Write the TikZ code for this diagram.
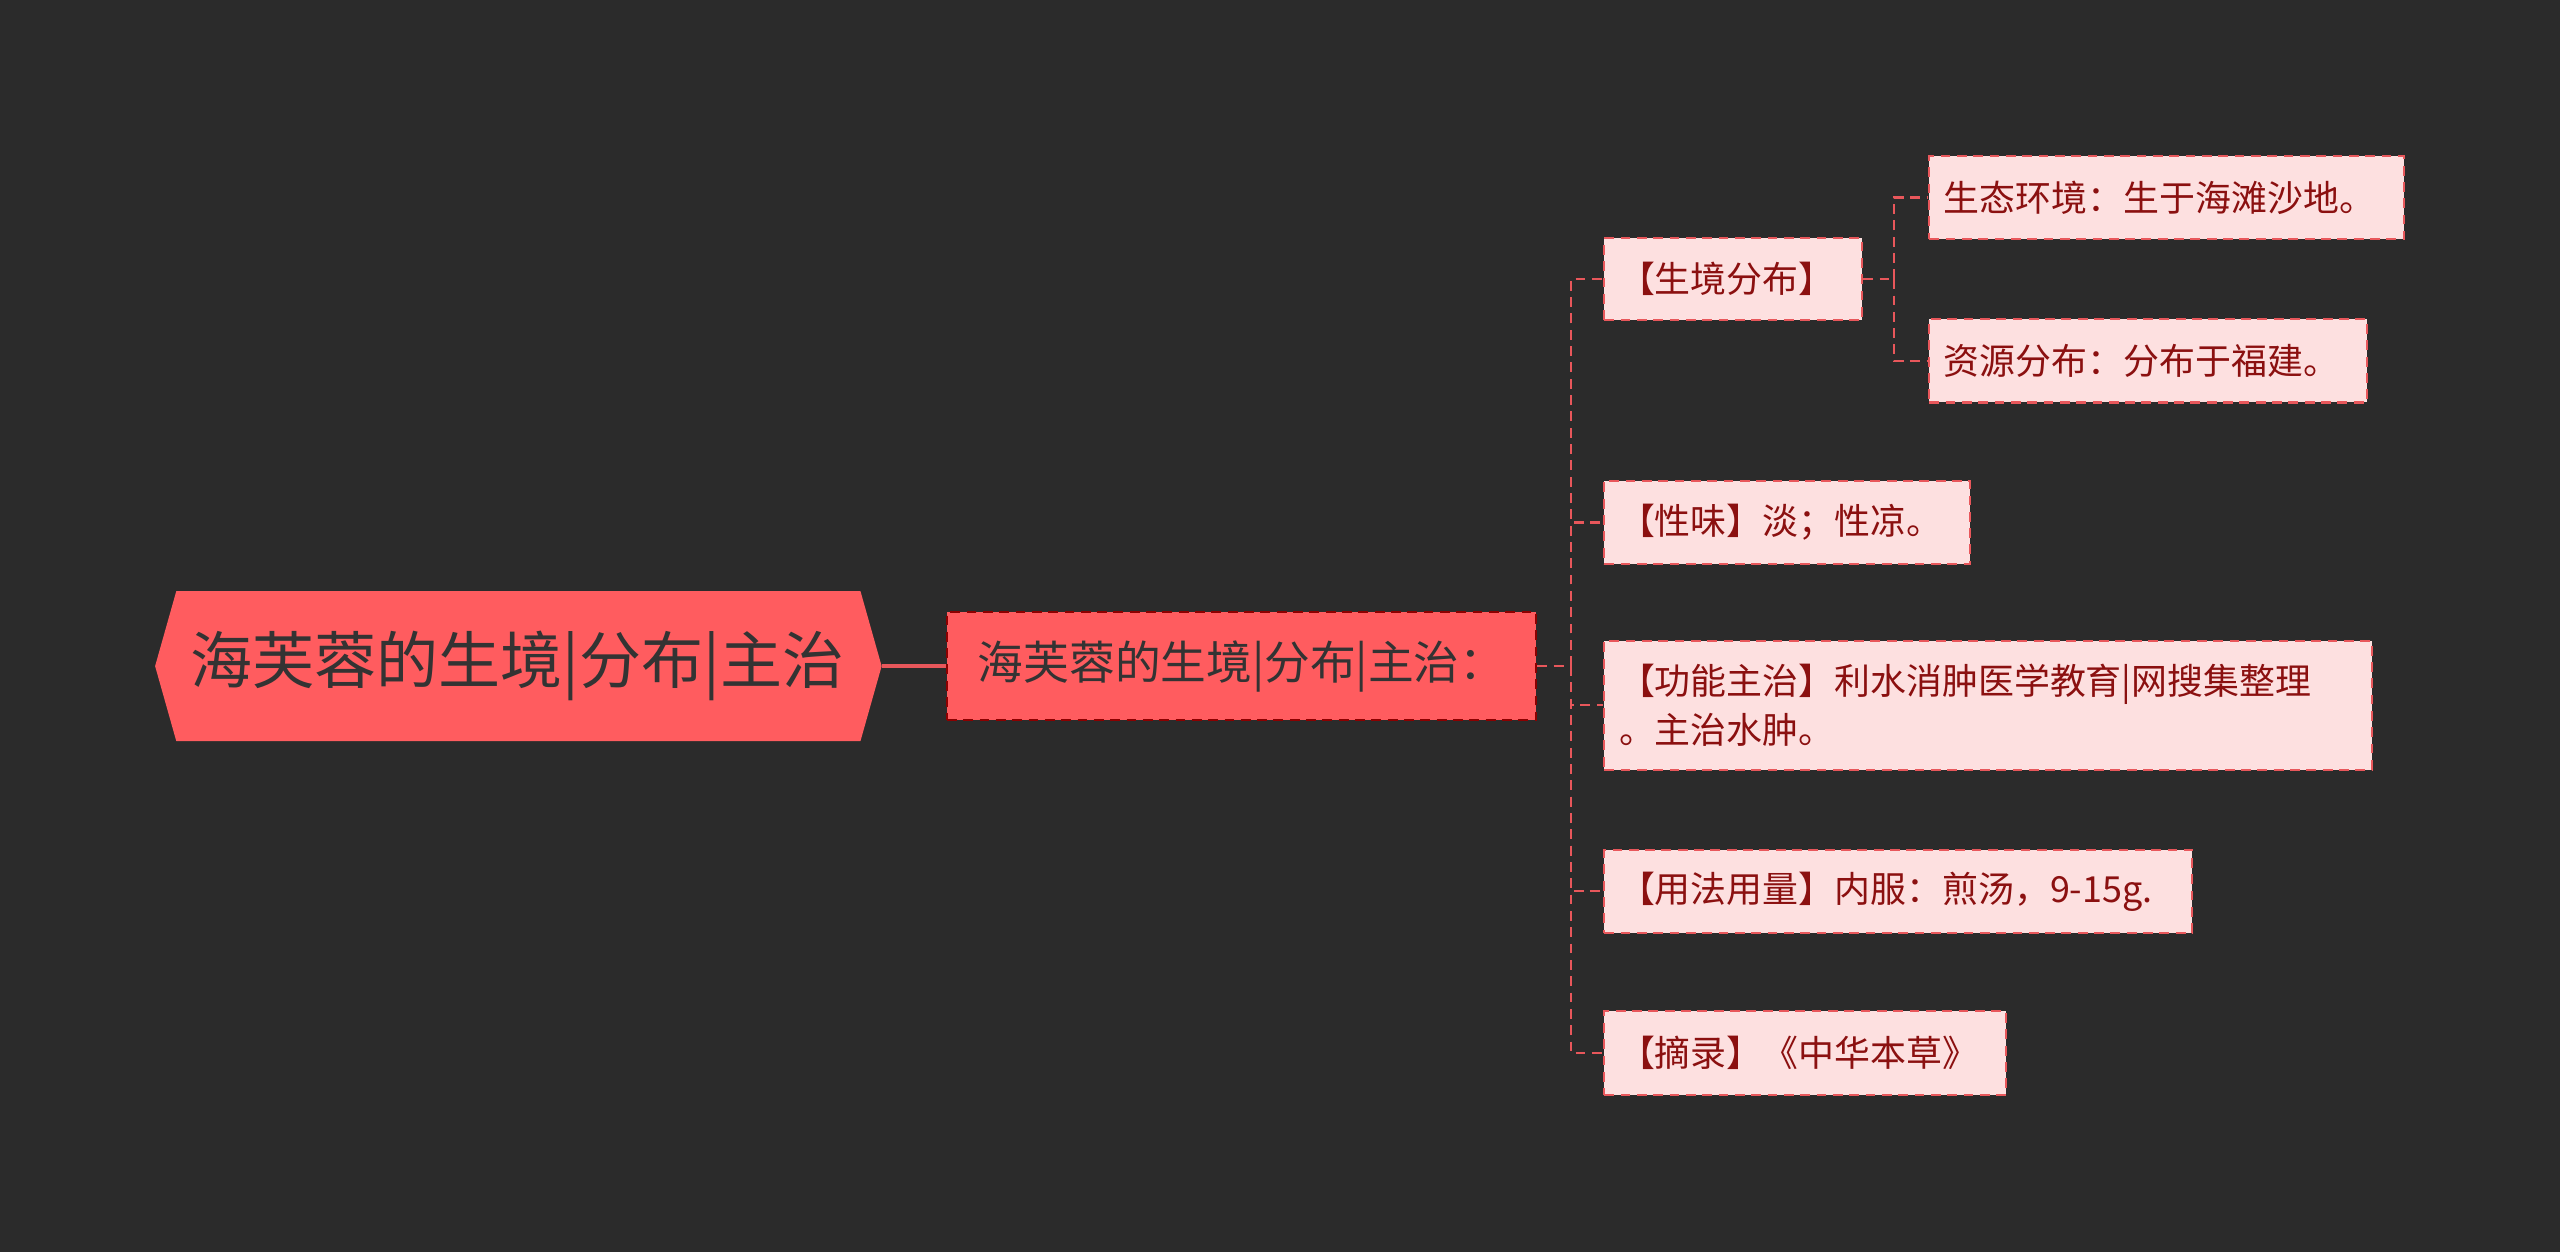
\documentclass[tikz,border=0pt]{standalone}
\usepackage{fontspec}
\setmainfont{Noto Sans CJK SC}
\usetikzlibrary{shapes.geometric}
\definecolor{bg}{HTML}{2B2B2B}
\definecolor{main}{HTML}{FF5C5F}
\definecolor{pink}{HTML}{FDE0E0}
\definecolor{dred}{HTML}{8B1010}
\definecolor{lnc}{HTML}{E8575B}
\tikzset{
 leaf/.style={draw=lnc,dash pattern=on 6pt off 4pt,line width=1.3pt,fill=pink,text=dred,font=\fontsize{22}{30}\selectfont,anchor=west,inner xsep=9pt,inner ysep=0pt,align=left},
 conn/.style={draw=lnc,dash pattern=on 6pt off 4pt,line width=1.3pt}
}
\begin{document}
\begin{tikzpicture}[x=1pt,y=-1pt]
\useasboundingbox[fill=bg] (0,0) rectangle (1568,767);
\fill[main] (95,408) -- (108,362) -- (527,362) -- (540,408) -- (527,454) -- (108,454) -- cycle;
\node[text=black!80,font=\fontsize{38}{44}\selectfont] (root) at (317,408) {海芙蓉的生境|分布|主治};
\coordinate (rootr) at (540,408);
\node[draw=red!55!black,dash pattern=on 6pt off 4pt,line width=1.3pt,fill=main,text=black!80,font=\fontsize{28}{32}\selectfont,minimum width=361pt,minimum height=66pt,inner sep=0pt] (l1) at (760.5,408) {海芙蓉的生境|分布|主治：};
\draw[draw=lnc,line width=2pt] (rootr) -- (l1.west);
\node[leaf,minimum height=50pt,text width=140pt] (a) at (982,171) {【生境分布】};
\node[leaf,minimum height=51pt,text width=273pt] (a1) at (1181,121) {生态环境：生于海滩沙地。};
\node[leaf,minimum height=51pt,text width=250pt] (a2) at (1181,221) {资源分布：分布于福建。};
\node[leaf,minimum height=51pt,text width=206pt] (b) at (982,320) {【性味】淡；性凉。};
\node[leaf,minimum height=79pt,text width=452pt] (c) at (982,432) {【功能主治】利水消肿医学教育|网搜集整理\\。主治水肿。};
\node[leaf,minimum height=51pt,text width=342pt] (d) at (982,546) {【用法用量】内服：煎汤，9-15g.};
\node[leaf,minimum height=51pt,text width=228pt] (e) at (982,645) {【摘录】《中华本草》};
\coordinate (t0) at (962,408);
\draw[conn] (l1.east) -- (t0);
\foreach \n in {a,b,c,d,e} \draw[conn] (t0) |- (\n.west);
\coordinate (s0) at (1160,171);
\draw[conn] (a.east) -- (s0);
\foreach \n in {a1,a2} \draw[conn] (s0) |- (\n.west);
\end{tikzpicture}
\end{document}
